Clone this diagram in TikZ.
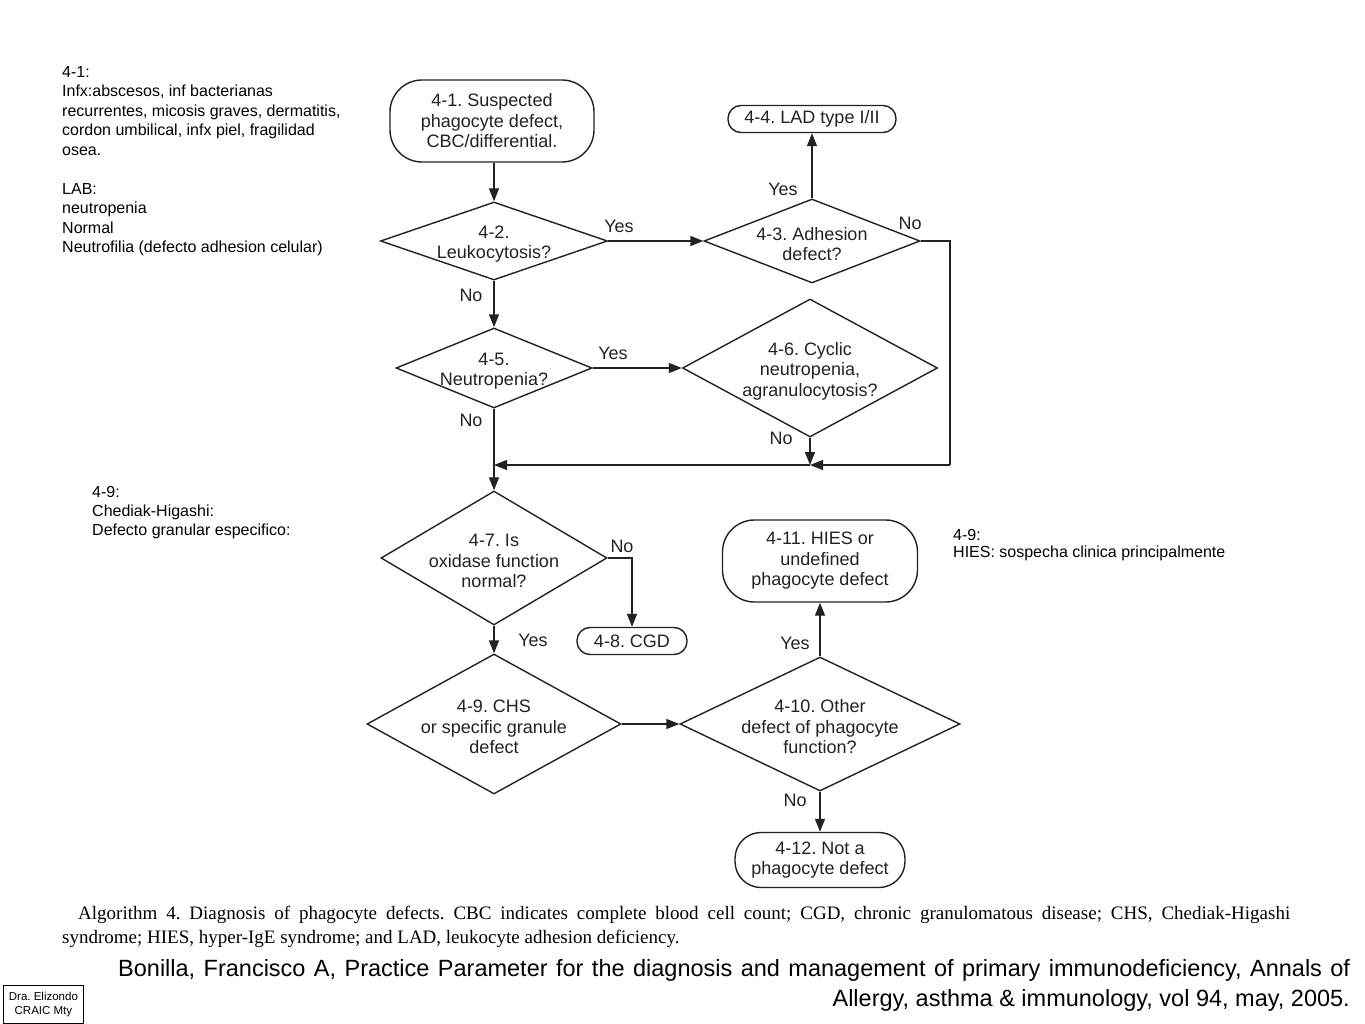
\documentclass[tikz,border=0pt]{standalone}
\usepackage{fontspec}
\setmainfont{Liberation Sans}
\newfontfamily\capfont{Liberation Serif}
\usetikzlibrary{shapes.geometric,arrows.meta}
\definecolor{ink}{HTML}{222222}
\frenchspacing
\begin{document}
\begin{tikzpicture}[x=1pt,y=-1pt,
  every node/.style={inner sep=0pt, text=ink},
  ft/.style={font=\fontsize{18}{20.5}\selectfont},
  term/.style={ft, draw=ink, line width=1.4pt, align=center},
  dia/.style={diamond, draw=ink, line width=1.4pt, inner sep=0pt},
  dtext/.style={ft, align=center, yshift=-3pt},
  arr/.style={draw=ink, line width=1.4pt, -{Triangle[length=13pt,width=10pt]}},
  ln/.style={draw=ink, line width=1.4pt},
  yn/.style={ft},
  note/.style={font=\fontsize{16}{19.5}\selectfont, align=left, anchor=north west, text=black},
]
\clip (0,0) rectangle (1365,1024);
\fill[white] (0,0) rectangle (1365,1024);

% terminal boxes
\node[term, minimum width=204pt, minimum height=82pt, rounded corners=32pt] (n41) at (492,121) {4-1. Suspected\\phagocyte defect,\\CBC/differential.};
\node[term, minimum width=168pt, minimum height=27pt, rounded corners=13pt] (n44) at (812,119) {4-4. LAD type I/II};
\node[term, minimum width=110pt, minimum height=27pt, rounded corners=13pt] (n48) at (632,641) {4-8. CGD};
\node[term, minimum width=195pt, minimum height=82pt, rounded corners=32pt] (n411) at (820,561) {4-11. HIES or\\undefined\\phagocyte defect};
\node[term, minimum width=170pt, minimum height=55pt, rounded corners=26pt] (n412) at (820,860) {4-12. Not a\\phagocyte defect};

% decision diamonds
\node[dia, minimum width=227pt, minimum height=78pt, label={[dtext]center:{4-2.\\Leukocytosis?}}] (d42) at (494,241) {};
\node[dia, minimum width=216pt, minimum height=84pt, label={[dtext]center:{4-3. Adhesion\\defect?}}] (d43) at (812,241) {};
\node[dia, minimum width=196pt, minimum height=80pt, label={[dtext]center:{4-5.\\Neutropenia?}}] (d45) at (494,368) {};
\node[dia, minimum width=255pt, minimum height=138pt, label={[dtext]center:{4-6. Cyclic\\neutropenia,\\agranulocytosis?}}] (d46) at (810,368) {};
\node[dia, minimum width=226pt, minimum height=134pt, label={[dtext]center:{4-7. Is\\oxidase function\\normal?}}] (d47) at (494,558) {};
\node[dia, minimum width=254pt, minimum height=140pt, label={[dtext]center:{4-9. CHS\\or specific granule\\defect}}] (d49) at (494,724) {};
\node[dia, minimum width=280pt, minimum height=134pt, label={[dtext]center:{4-10. Other\\defect of phagocyte\\function?}}] (d410) at (820,724) {};

% junction coordinates
\coordinate (jr) at (950,465);
\coordinate (jm) at (810,465);
\coordinate (jl) at (494,465);

% connectors
\draw[arr] (n41.south -| d42.north) -- (d42.north);
\draw[arr] (d42.east) -- (d43.west);
\draw[arr] (d43.north) -- (n44.south);
\draw[ln] (d43.east) -| (jr);
\draw[arr] (jr) -- (jm);
\draw[arr] (jm) -- (jl);
\draw[arr] (d42.south) -- (d45.north);
\draw[arr] (d45.east) -- (d46.west);
\draw[arr] (d46.south) -- (jm);
\draw[ln] (d45.south) -- (jl);
\draw[arr] (jl) -- (d47.north);
\draw[arr] (d47.east) -| (n48.north);
\draw[arr] (d47.south) -- (d49.north);
\draw[arr] (d49.east) -- (d410.west);
\draw[arr] (d410.north) -- (n411.south);
\draw[arr] (d410.south) -- (n412.north);

% yes / no labels
\node[yn] (y1) at (619,226) {Yes};
\node[yn] (y2) at (783,189) {Yes};
\node[yn] (n1) at (910,223) {No};
\node[yn] (n2) at (471,295) {No};
\node[yn] (y3) at (613,353) {Yes};
\node[yn] (n3) at (471,420) {No};
\node[yn] (n4) at (781,438) {No};
\node[yn] (n5) at (622,546) {No};
\node[yn] (y4) at (533,640) {Yes};
\node[yn] (y5) at (795,643) {Yes};
\node[yn] (n6) at (795,800) {No};

% notes
\node[note] (a1) at (62,66) {4-1:\\Infx:abscesos, inf bacterianas\\recurrentes, micosis graves, dermatitis,\\cordon umbilical, infx piel, fragilidad\\osea.\\[19.5pt]LAB:\\neutropenia\\Normal\\Neutrofilia (defecto adhesion celular)};
\node[note, font=\fontsize{16}{19}\selectfont] (a2) at (92,486) {4-9:\\Chediak-Higashi:\\Defecto granular especifico:};
\node[note, font=\fontsize{16}{17.5}\selectfont] (a3) at (953,529) {4-9:\\HIES: sospecha clinica principalmente};

% caption
\node[anchor=base west, font=\capfont\fontsize{19}{23}\selectfont, text=black] (cap1) at (78,919) {\makebox[1212pt][s]{Algorithm 4. Diagnosis of phagocyte defects. CBC indicates complete blood cell count; CGD, chronic granulomatous disease; CHS, Chediak-Higashi}};
\node[anchor=base west, font=\capfont\fontsize{19}{23}\selectfont, text=black] (cap2) at (62,943) {syndrome; HIES, hyper-IgE syndrome; and LAD, leukocyte adhesion deficiency.};

% citation
\node[anchor=base west, font=\fontsize{23.5}{30}\selectfont, text=black] (cit1) at (118,976) {\makebox[1232pt][s]{Bonilla, Francisco A, Practice Parameter for the diagnosis and management of primary immunodeficiency, Annals of}};
\node[anchor=base east, font=\fontsize{23.5}{30}\selectfont, text=black] (cit2) at (1350,1006) {Allergy, asthma \& immunology, vol 94, may, 2005.};

% author box
\node[draw=black, line width=0.8pt, minimum width=80pt, minimum height=38pt, anchor=north west, align=center, font=\fontsize{11.5}{14.5}\selectfont, text=black] (dra) at (3,985) {Dra. Elizondo\\CRAIC Mty};
\end{tikzpicture}
\end{document}
